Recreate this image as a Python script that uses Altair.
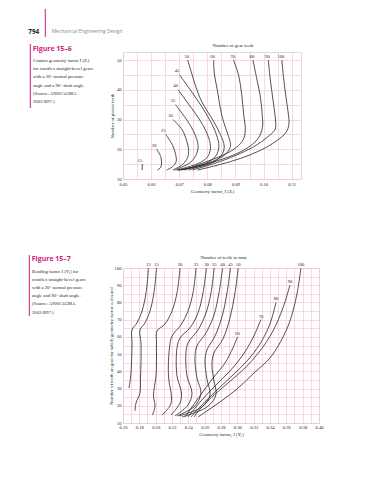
import altair as alt
import pandas as pd

# ---------------- Figure 15-6 : geometry factor I vs number of pinion teeth ----------------
f6_gear = [15, 20, 25, 30, 35, 40, 45, 50, 60, 70, 80, 90, 100]
f6_g15_I = [0.0569, 0.0568]
f6_g15_N = [15, 13]
f6_g20_I = [0.0620, 0.0634, 0.0637, 0.0634, 0.0622]
f6_g20_N = [20, 17.6, 15.3, 13.9, 13]
f6_g25_I = [0.0652, 0.0675, 0.0687, 0.0689, 0.0677, 0.0655]
f6_g25_N = [25, 21.6, 18.3, 15.9, 14.2, 13]
f6_g30_I = [0.0678, 0.0710, 0.0726, 0.0733, 0.0730, 0.0712, 0.0677]
f6_g30_N = [30, 26.6, 23.0, 20.0, 17.3, 14.9, 13]
f6_g35_I = [0.0687, 0.0730, 0.0754, 0.0767, 0.0761, 0.0740, 0.0684]
f6_g35_N = [35, 29.4, 25.4, 21.3, 18.3, 15.6, 13]
f6_g40_I = [0.0696, 0.0733, 0.0776, 0.0800, 0.0811, 0.0804, 0.0776, 0.0691]
f6_g40_N = [40, 35.2, 29.4, 25.0, 21.0, 17.9, 15.6, 13]
f6_g45_I = [0.0701, 0.0740, 0.0779, 0.0811, 0.0832, 0.0841, 0.0829, 0.0793, 0.0694]
f6_g45_N = [45, 39.9, 34.5, 29.4, 25.0, 21.0, 17.6, 15.2, 13]
f6_g50_I = [0.0730, 0.0744, 0.0758, 0.0779, 0.0822, 0.0846, 0.0860, 0.0850, 0.0811, 0.0698]
f6_g50_N = [50, 45.6, 41.3, 36.2, 29.4, 25.0, 21.0, 17.9, 15.2, 13]
f6_g60_I = [0.0822, 0.0825, 0.0836, 0.0846, 0.0857, 0.0875, 0.0882, 0.0864, 0.0818, 0.0705]
f6_g60_N = [50, 45.3, 39.6, 33.8, 29.4, 24.4, 21.0, 18.3, 15.9, 13]
f6_g70_I = [0.0893, 0.0910, 0.0922, 0.0929, 0.0935, 0.0928, 0.0903, 0.0853, 0.0790, 0.0719]
f6_g70_N = [50, 45.3, 38.5, 31.8, 26.7, 23.3, 20.6, 17.9, 15.6, 13]
f6_g80_I = [0.0962, 0.0975, 0.0988, 0.0995, 0.0996, 0.0981, 0.0945, 0.0889, 0.0818, 0.0733]
f6_g80_N = [50, 44.0, 37.9, 31.8, 27.4, 23.7, 20.6, 17.9, 15.6, 13]
f6_g90_I = [0.1017, 0.1023, 0.1034, 0.1042, 0.1041, 0.1012, 0.0973, 0.0917, 0.0846, 0.0747]
f6_g90_N = [50, 44.0, 36.2, 30.1, 26.7, 24.0, 21.3, 18.6, 15.9, 13]
f6_g100_I = [0.1065, 0.1071, 0.1080, 0.1088, 0.1090, 0.1080, 0.1044, 0.0988, 0.0917, 0.0846, 0.0765]
f6_g100_N = [50, 44.0, 37.2, 31.8, 28.4, 25.7, 22.7, 19.6, 16.9, 14.9, 13]

f6_x_grid = [0.05, 0.055, 0.06, 0.065, 0.07, 0.075, 0.08, 0.085, 0.09, 0.095, 0.10, 0.105, 0.11]
f6_y_grid = [10, 15, 20, 25, 30, 35, 40, 45, 50]

# ---------------- Figure 15-7 : bending factor J vs number of gear teeth ----------------
f7_mate = [13, 15, 20, 25, 30, 35, 40, 45, 50, 60, 70, 80, 90, 100]
f7_m13_J = [0.1912, 0.1882, 0.1833, 0.1771, 0.1710, 0.1710, 0.1704, 0.1692, 0.1673]
f7_m13_N = [100, 85.5, 75.0, 68.1, 64.0, 56.5, 44.8, 36.1, 30.3]
f7_m15_J = [0.2010, 0.1979, 0.1930, 0.1869, 0.1808, 0.1820, 0.1820, 0.1814, 0.1808, 0.1759, 0.1747]
f7_m15_N = [100, 85.5, 75.0, 68.1, 64.0, 56.5, 44.8, 36.1, 27.4, 21.6, 17.0]
f7_m20_J = [0.2298, 0.2261, 0.2200, 0.2114, 0.2016, 0.2010, 0.2010, 0.2004, 0.1973, 0.1992, 0.1961]
f7_m20_N = [100, 85.5, 75.0, 67.5, 63.4, 56.5, 44.8, 37.3, 25.7, 19.9, 14.6]
f7_m25_J = [0.2494, 0.2457, 0.2396, 0.2310, 0.2200, 0.2169, 0.2157, 0.2194, 0.2175, 0.2077]
f7_m25_N = [100, 85.5, 75.0, 66.9, 60.5, 53.6, 37.3, 24.5, 19.9, 14.6]
f7_m30_J = [0.2622, 0.2579, 0.2518, 0.2420, 0.2298, 0.2261, 0.2261, 0.2316, 0.2298, 0.2188]
f7_m30_N = [100, 85.5, 73.9, 65.2, 59.4, 53.6, 37.3, 27.4, 21.6, 14.6]
f7_m35_J = [0.2717, 0.2677, 0.2616, 0.2518, 0.2396, 0.2371, 0.2383, 0.2445, 0.2396, 0.2236]
f7_m35_N = [100, 85.5, 73.9, 64.0, 56.5, 50.7, 37.3, 27.4, 20.5, 14.1]
f7_m40_J = [0.2820, 0.2775, 0.2714, 0.2616, 0.2506, 0.2481, 0.2506, 0.2555, 0.2481, 0.2261]
f7_m40_N = [100, 85.5, 72.7, 62.3, 54.8, 47.7, 36.1, 27.4, 19.9, 14.1]
f7_m45_J = [0.2916, 0.2873, 0.2812, 0.2726, 0.2628, 0.2604, 0.2628, 0.2665, 0.2567, 0.2285]
f7_m45_N = [100, 85.5, 71.6, 60.5, 52.4, 46.0, 35.5, 26.3, 19.3, 14.1]
f7_m50_J = [0.3011, 0.2971, 0.2910, 0.2824, 0.2714, 0.2689, 0.2714, 0.2738, 0.2628, 0.2322]
f7_m50_N = [100, 85.5, 71.0, 58.8, 50.7, 43.7, 34.4, 26.3, 19.3, 13.5]
f7_m60_J = [0.3001, 0.2946, 0.2848, 0.2702, 0.2567, 0.2445, 0.2359]
f7_m60_N = [60, 53.6, 44.8, 36.1, 27.4, 19.3, 13.5]
f7_m70_J = [0.3289, 0.3191, 0.3069, 0.2910, 0.2726, 0.2555, 0.2396]
f7_m70_N = [70, 59.4, 49.5, 40.2, 31.5, 22.8, 13.5]
f7_m80_J = [0.3473, 0.3399, 0.3277, 0.3118, 0.2934, 0.2738, 0.2567, 0.2432]
f7_m80_N = [80, 67.5, 55.9, 46.0, 37.3, 28.6, 20.5, 13.5]
f7_m90_J = [0.3644, 0.3558, 0.3436, 0.3277, 0.3093, 0.2885, 0.2689, 0.2555, 0.2469]
f7_m90_N = [90, 76.8, 63.4, 51.8, 41.9, 33.2, 25.1, 18.7, 13.5]
f7_m100_J = [0.3779, 0.3730, 0.3644, 0.3534, 0.3399, 0.3203, 0.2995, 0.2787, 0.2628, 0.2518]
f7_m100_N = [100, 84.9, 69.2, 57.6, 47.7, 39.0, 29.7, 22.2, 17.0, 13.5]

f7_x_grid = [0.16, 0.17, 0.18, 0.19, 0.20, 0.21, 0.22, 0.23, 0.24, 0.25, 0.26, 0.27, 0.28,
             0.29, 0.30, 0.31, 0.32, 0.33, 0.34, 0.35, 0.36, 0.37, 0.38, 0.39, 0.40]
f7_y_grid = [10, 15, 20, 25, 30, 35, 40, 45, 50, 55, 60, 65, 70, 75, 80, 85, 90, 95, 100]

# ---------------- page text ----------------
page_number = "794"
running_head = "Mechanical Engineering Design"
fig6_label = "Figure 15\u20136"
fig6_top_title = "Number of gear teeth"
fig6_caption = ["Contact geometry factor I (Z\u1d62)",
                "for coniflex straight-bevel gears",
                "with a 20\u00b0 normal pressure",
                "angle and a 90\u00b0 shaft angle.",
                "(Source: ANSI/AGMA",
                "2003-B97.)"]
fig7_label = "Figure 15\u20137"
fig7_top_title = "Number of teeth in mate"
fig7_caption = ["Bending factor J (Y\u2c7c) for",
                "coniflex straight-bevel gears",
                "with a 20\u00b0 normal pressure",
                "angle and 90\u00b0 shaft angle.",
                "(Source: ANSI/AGMA",
                "2003-B97.)"]

# ---------------- tables ----------------
f6_I = [f6_g15_I, f6_g20_I, f6_g25_I, f6_g30_I, f6_g35_I, f6_g40_I, f6_g45_I,
        f6_g50_I, f6_g60_I, f6_g70_I, f6_g80_I, f6_g90_I, f6_g100_I]
f6_N = [f6_g15_N, f6_g20_N, f6_g25_N, f6_g30_N, f6_g35_N, f6_g40_N, f6_g45_N,
        f6_g50_N, f6_g60_N, f6_g70_N, f6_g80_N, f6_g90_N, f6_g100_N]
f7_J = [f7_m13_J, f7_m15_J, f7_m20_J, f7_m25_J, f7_m30_J, f7_m35_J, f7_m40_J,
        f7_m45_J, f7_m50_J, f7_m60_J, f7_m70_J, f7_m80_J, f7_m90_J, f7_m100_J]
f7_N = [f7_m13_N, f7_m15_N, f7_m20_N, f7_m25_N, f7_m30_N, f7_m35_N, f7_m40_N,
        f7_m45_N, f7_m50_N, f7_m60_N, f7_m70_N, f7_m80_N, f7_m90_N, f7_m100_N]


def build(keys, xs_list, ns_list, xname):
    rows = []
    for k, xs, ns in zip(keys, xs_list, ns_list):
        for i, (x, n) in enumerate(zip(xs, ns)):
            rows.append({"curve": k, xname: x, "N": n, "seq": i, "lab": str(k)})
    return pd.DataFrame(rows)


df6 = build(f6_gear, f6_I, f6_N, "I")
df7 = build(f7_mate, f7_J, f7_N, "J")
lab6 = df6[df6["seq"] == 0]
lab7 = df7[df7["seq"] == 0]
one = pd.DataFrame({"k": [0]})

# ---------------- style ----------------
INK = "#262626"
GRID = "#f5c3de"
FRAME = "#e58bbf"
MAGENTA = "#d3187e"
SERIF = "Liberation Serif"
SANS = "Open Sans"


def note(text, x, y, **kw):
    return alt.Chart(one).mark_text(text=text, **kw).encode(x=alt.value(x), y=alt.value(y))


def vbar(x, y, y2, color, width):
    return alt.Chart(one).mark_rule(color=color, strokeWidth=width).encode(
        x=alt.value(x), y=alt.value(y), y2=alt.value(y2))


def axis(values, expr, title, **kw):
    return alt.Axis(values=values, labelExpr=expr, title=title, grid=True, gridColor=GRID,
                    gridWidth=0.7, ticks=False, domain=False, labelFont=SERIF,
                    labelFontSize=4.6, labelColor=INK, labelOverlap=False, labelFlush=False,
                    titleFont=SERIF, titleFontSize=4.8, titleFontWeight="normal",
                    titleColor=INK, **kw)


# ---------------- Figure 15-6 chart ----------------
x6 = alt.X("I:Q", scale=alt.Scale(domain=[0.05, 0.1133], nice=False, zero=False),
           axis=axis(f6_x_grid, "round(datum.value*1000) % 10 == 0 ? format(datum.value, '.2f') : ''",
                     "Geometry factor, I (Z\u1d62)", labelPadding=2, titlePadding=3))
y6 = alt.Y("N:Q", scale=alt.Scale(domain=[10, 52.7], nice=False, zero=False),
           axis=axis(f6_y_grid, "datum.value % 10 == 0 ? datum.label : ''",
                     "Number of pinion teeth", labelPadding=2, titlePadding=2))

lines6 = alt.Chart(df6).mark_line(interpolate="catmull-rom", color=INK, strokeWidth=0.8).encode(
    x=x6, y=y6, detail="curve:N", order="seq:Q")
labs6a = alt.Chart(lab6).transform_filter("datum.curve <= 45").mark_text(
    font=SERIF, fontSize=4.6, color=INK, dx=-2.5, dy=-3.5).encode(x=x6, y=y6, text="lab:N")
labs6b = alt.Chart(lab6).transform_filter("datum.curve > 45").mark_text(
    font=SERIF, fontSize=4.6, color=INK, dx=-1, dy=-3).encode(x=x6, y=y6, text="lab:N")

fig6 = alt.layer(
    lines6, labs6a, labs6b,
    note(fig6_top_title, 110, -6, align="center", baseline="middle", font=SERIF,
         fontSize=4.8, color=INK),
    vbar(-77.7, -43, -15, MAGENTA, 1),
    note(page_number, -94.7, -20, align="left", baseline="middle", font=SANS,
         fontWeight="bold", fontSize=6.3, color="#222222"),
    note(running_head, -71.3, -20, align="left", baseline="middle", font=SANS,
         fontSize=4.9, color="#8a8a8a"),
    vbar(-92.7, -8, 56, MAGENTA, 1),
    note(fig6_label, -90.3, -3.3, align="left", baseline="middle", font=SANS,
         fontWeight="bold", fontSize=7, color=MAGENTA),
    note(fig6_caption, -90, 5.8, align="left", baseline="top", font=SERIF,
         fontSize=4.7, lineHeight=8.3, color=INK),
).properties(width=178, height=127)

# ---------------- Figure 15-7 chart ----------------
x7 = alt.X("J:Q", scale=alt.Scale(domain=[0.16, 0.40], nice=False, zero=False),
           axis=axis(f7_x_grid, "round(datum.value*100) % 2 == 0 ? format(datum.value, '.2f') : ''",
                     "Geometry factor, J (Y\u2c7c)", labelPadding=1.5, titlePadding=2))
y7 = alt.Y("N:Q", scale=alt.Scale(domain=[10, 100], nice=False, zero=False),
           axis=axis(f7_y_grid, "datum.value % 10 == 0 ? datum.label : ''",
                     "Number of teeth on gear for which geometry factor is desired",
                     labelPadding=2, titlePadding=1))

lines7 = alt.Chart(df7).mark_line(interpolate="catmull-rom", color=INK, strokeWidth=0.8).encode(
    x=x7, y=y7, detail="curve:N", order="seq:Q")
labs7 = alt.Chart(lab7).mark_text(font=SERIF, fontSize=4.6, color=INK, dy=-3).encode(
    x=x7, y=y7, text="lab:N")

fig7 = alt.layer(
    lines7, labs7,
    note(fig7_top_title, 101, -10, align="center", baseline="middle", font=SERIF,
         fontSize=4.8, color=INK),
    vbar(-93.7, -13, 48, MAGENTA, 1),
    note(fig7_label, -91.3, -9, align="left", baseline="middle", font=SANS,
         fontWeight="bold", fontSize=7, color=MAGENTA),
    note(fig7_caption, -91, 1, align="left", baseline="top", font=SERIF,
         fontSize=4.7, lineHeight=8.1, color=INK),
).properties(width=196, height=155)

chart = alt.vconcat(fig6, fig7, spacing=60).properties(
    padding={"left": 19, "top": 0, "right": 0, "bottom": 0}
).configure_view(stroke=FRAME, strokeWidth=0.9).configure(background="white")

chart.save("out.html", embed_options={"renderer": "svg", "actions": False})
